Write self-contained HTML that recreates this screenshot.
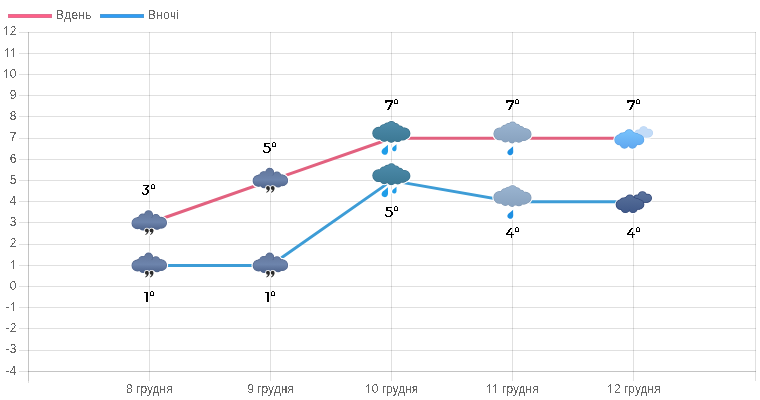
<!DOCTYPE html>
<html><head><meta charset="utf-8"><style>
html,body{margin:0;padding:0;background:#fff;width:760px;height:400px;overflow:hidden}
svg{display:block}
text{font-family:"Liberation Sans",sans-serif}
</style></head><body>
<svg width="760" height="400" viewBox="0 0 760 400">
<defs>
<g id="cA"><circle cx="-11.5" cy="0.5" r="5.4"/><circle cx="12" cy="0.1" r="5.3"/><circle cx="-0.45" cy="-8" r="3.8"/><circle cx="-6.3" cy="-4.5" r="4"/><circle cx="6.8" cy="-4.5" r="3.6"/><circle cx="-6" cy="3.5" r="3.7"/><circle cx="1" cy="3.2" r="3.5"/><circle cx="8" cy="3" r="3.5"/><rect x="-11.5" y="-5" width="23.5" height="9"/></g>
<g id="cB"><circle cx="-12.5" cy="-4.7" r="5.8"/><circle cx="13.2" cy="-4.4" r="5.3"/><circle cx="0.2" cy="-12.4" r="3.9"/><circle cx="-7.2" cy="-9" r="4.1"/><circle cx="8.3" cy="-8" r="3.8"/><circle cx="-3.6" cy="-11" r="3.8"/><circle cx="4.2" cy="-10.4" r="3.8"/><circle cx="-7" cy="-0.8" r="4"/><circle cx="0" cy="0" r="4.2"/><circle cx="6.5" cy="-0.5" r="4"/><circle cx="11.5" cy="-1.5" r="3.4"/><rect x="-12.5" y="-9.5" width="25.7" height="9.5"/></g>
<g id="cDf"><circle cx="-13.6" cy="1.9" r="4.85"/><circle cx="5.5" cy="1.7" r="4.65"/><circle cx="-4.25" cy="-3.6" r="4.35"/><circle cx="-11" cy="-1" r="3.75"/><circle cx="2.55" cy="-0.7" r="3.65"/><circle cx="-7.6" cy="-2" r="3.6"/><circle cx="-0.8" cy="-1.8" r="3.6"/><circle cx="-9" cy="5.9" r="4.15"/><circle cx="-1" cy="5.9" r="4.15"/><rect x="-13.6" y="-1.5" width="19.1" height="8.0"/></g>
<g id="cDb"><circle cx="10.15" cy="-7.3" r="3.85"/><circle cx="5" cy="-4.6" r="3.2"/><circle cx="15.4" cy="-5" r="3.55"/><circle cx="8" cy="-3.85" r="2.7"/><circle cx="13" cy="-3.85" r="2.7"/><rect x="5" y="-6.5" width="10.4" height="5.35"/></g>
<g id="dropsA" fill="#2b2b2b">
 <circle cx="-2.2" cy="7.7" r="1.9"/>
 <path d="M-0.4 7.9 C-0.3 10.1 -1.5 11.6 -3.7 12.4 L-3.9 11.8 C-2.7 11.1 -2.1 10.3 -2.2 9.3 Z"/>
 <circle cx="2.5" cy="7.7" r="1.9"/>
 <path d="M4.3 7.9 C4.4 10.1 3.2 11.6 1 12.4 L0.8 11.8 C2 11.1 2.6 10.3 2.5 9.3 Z"/>
</g>
<filter id="crisp2" x="-10%" y="-30%" width="120%" height="160%"><feComponentTransfer><feFuncA type="discrete" tableValues="0 1"/></feComponentTransfer></filter>
<linearGradient id="gA" gradientUnits="userSpaceOnUse" x1="0" y1="-12" x2="0" y2="7"><stop offset="0" stop-color="#62769b"/><stop offset="0.6" stop-color="#6d84ac"/><stop offset="1" stop-color="#50658d"/></linearGradient>
<linearGradient id="gB" gradientUnits="userSpaceOnUse" x1="0" y1="-16.5" x2="0" y2="4.5"><stop offset="0" stop-color="#4d8baa"/><stop offset="1" stop-color="#3c7894"/></linearGradient>
<linearGradient id="gC" gradientUnits="userSpaceOnUse" x1="0" y1="-16.5" x2="0" y2="4.5"><stop offset="0" stop-color="#9ab4d0"/><stop offset="1" stop-color="#88a2bf"/></linearGradient>
<linearGradient id="gD" gradientUnits="userSpaceOnUse" x1="0" y1="-8" x2="0" y2="10"><stop offset="0" stop-color="#78c3fc"/><stop offset="1" stop-color="#60a8f1"/></linearGradient>
<linearGradient id="gE" gradientUnits="userSpaceOnUse" x1="0" y1="-11" x2="0" y2="11"><stop offset="0" stop-color="#5a729c"/><stop offset="1" stop-color="#3f5888"/></linearGradient>
<path id="drop" d="M0 -5 C1 -2 3 0 3 2.2 C3 4.2 1.6 5.2 0 5.2 C-1.6 5.2 -3 4.2 -3 2.2 C-3 0 -1 -2 0 -5 Z"/>
</defs>
<line x1="19" y1="32.5" x2="756" y2="32.5" stroke="#000" stroke-opacity="0.12" stroke-width="1"/>
<line x1="19" y1="53.5" x2="756" y2="53.5" stroke="#000" stroke-opacity="0.12" stroke-width="1"/>
<line x1="19" y1="74.5" x2="756" y2="74.5" stroke="#000" stroke-opacity="0.12" stroke-width="1"/>
<line x1="19" y1="95.5" x2="756" y2="95.5" stroke="#000" stroke-opacity="0.12" stroke-width="1"/>
<line x1="19" y1="116.5" x2="756" y2="116.5" stroke="#000" stroke-opacity="0.12" stroke-width="1"/>
<line x1="19" y1="138.5" x2="756" y2="138.5" stroke="#000" stroke-opacity="0.12" stroke-width="1"/>
<line x1="19" y1="159.5" x2="756" y2="159.5" stroke="#000" stroke-opacity="0.12" stroke-width="1"/>
<line x1="19" y1="180.5" x2="756" y2="180.5" stroke="#000" stroke-opacity="0.12" stroke-width="1"/>
<line x1="19" y1="201.5" x2="756" y2="201.5" stroke="#000" stroke-opacity="0.12" stroke-width="1"/>
<line x1="19" y1="222.5" x2="756" y2="222.5" stroke="#000" stroke-opacity="0.12" stroke-width="1"/>
<line x1="19" y1="244.5" x2="756" y2="244.5" stroke="#000" stroke-opacity="0.12" stroke-width="1"/>
<line x1="19" y1="265.5" x2="756" y2="265.5" stroke="#000" stroke-opacity="0.12" stroke-width="1"/>
<line x1="19" y1="286.5" x2="756" y2="286.5" stroke="#000" stroke-opacity="0.12" stroke-width="1"/>
<line x1="19" y1="307.5" x2="756" y2="307.5" stroke="#000" stroke-opacity="0.12" stroke-width="1"/>
<line x1="19" y1="328.5" x2="756" y2="328.5" stroke="#000" stroke-opacity="0.12" stroke-width="1"/>
<line x1="19" y1="350.5" x2="756" y2="350.5" stroke="#000" stroke-opacity="0.12" stroke-width="1"/>
<line x1="19" y1="371.5" x2="756" y2="371.5" stroke="#000" stroke-opacity="0.12" stroke-width="1"/>
<line x1="28.5" y1="32" x2="28.5" y2="381" stroke="#000" stroke-opacity="0.12" stroke-width="1"/>
<line x1="149.5" y1="32" x2="149.5" y2="381" stroke="#000" stroke-opacity="0.12" stroke-width="1"/>
<line x1="270.5" y1="32" x2="270.5" y2="381" stroke="#000" stroke-opacity="0.12" stroke-width="1"/>
<line x1="391.5" y1="32" x2="391.5" y2="381" stroke="#000" stroke-opacity="0.12" stroke-width="1"/>
<line x1="512.5" y1="32" x2="512.5" y2="381" stroke="#000" stroke-opacity="0.12" stroke-width="1"/>
<line x1="633.5" y1="32" x2="633.5" y2="381" stroke="#000" stroke-opacity="0.12" stroke-width="1"/>
<line x1="755.5" y1="32" x2="755.5" y2="381" stroke="#000" stroke-opacity="0.12" stroke-width="1"/>
<line x1="28.5" y1="32" x2="28.5" y2="383" stroke="#000" stroke-opacity="0.12"/>
<line x1="28" y1="371.5" x2="756" y2="371.5" stroke="#000" stroke-opacity="0.12"/>
<text x="16.5" y="35" text-anchor="end" font-size="12" fill="#666" filter="url(#crisp2)">12</text>
<text x="16.5" y="57" text-anchor="end" font-size="12" fill="#666" filter="url(#crisp2)">11</text>
<text x="16.5" y="78" text-anchor="end" font-size="12" fill="#666" filter="url(#crisp2)">10</text>
<text x="16.5" y="99" text-anchor="end" font-size="12" fill="#666" filter="url(#crisp2)">9</text>
<text x="16.5" y="120" text-anchor="end" font-size="12" fill="#666" filter="url(#crisp2)">8</text>
<text x="16.5" y="141" text-anchor="end" font-size="12" fill="#666" filter="url(#crisp2)">7</text>
<text x="16.5" y="163" text-anchor="end" font-size="12" fill="#666" filter="url(#crisp2)">6</text>
<text x="16.5" y="184" text-anchor="end" font-size="12" fill="#666" filter="url(#crisp2)">5</text>
<text x="16.5" y="205" text-anchor="end" font-size="12" fill="#666" filter="url(#crisp2)">4</text>
<text x="16.5" y="226" text-anchor="end" font-size="12" fill="#666" filter="url(#crisp2)">3</text>
<text x="16.5" y="247" text-anchor="end" font-size="12" fill="#666" filter="url(#crisp2)">2</text>
<text x="16.5" y="269" text-anchor="end" font-size="12" fill="#666" filter="url(#crisp2)">1</text>
<text x="16.5" y="290" text-anchor="end" font-size="12" fill="#666" filter="url(#crisp2)">0</text>
<text x="16.5" y="311" text-anchor="end" font-size="12" fill="#666" filter="url(#crisp2)">-1</text>
<text x="16.5" y="332" text-anchor="end" font-size="12" fill="#666" filter="url(#crisp2)">-2</text>
<text x="16.5" y="353" text-anchor="end" font-size="12" fill="#666" filter="url(#crisp2)">-3</text>
<text x="16.5" y="375" text-anchor="end" font-size="12" fill="#666" filter="url(#crisp2)">-4</text>
<text x="149.35" y="393" text-anchor="middle" font-size="12" fill="#666" filter="url(#crisp2)">8 грудня</text>
<text x="270.50" y="393" text-anchor="middle" font-size="12" fill="#666" filter="url(#crisp2)">9 грудня</text>
<text x="391.65" y="393" text-anchor="middle" font-size="12" fill="#666" filter="url(#crisp2)">10 грудня</text>
<text x="512.50" y="393" text-anchor="middle" font-size="12" fill="#666" filter="url(#crisp2)">11 грудня</text>
<text x="633.95" y="393" text-anchor="middle" font-size="12" fill="#666" filter="url(#crisp2)">12 грудня</text>
<path d="M4 34h1v1h-1zM5 34h1v1h-1zM7 34h1v1h-1zM8 34h1v1h-1zM5 26h1v1h-1zM4 27h1v1h-1zM5 56h1v1h-1zM6 56h1v1h-1zM8 56h1v1h-1zM9 56h1v1h-1zM6 48h1v1h-1zM5 49h1v1h-1zM11 56h1v1h-1zM12 56h1v1h-1zM14 56h1v1h-1zM15 56h1v1h-1zM12 48h1v1h-1zM11 49h1v1h-1zM4 77h1v1h-1zM5 77h1v1h-1zM7 77h1v1h-1zM8 77h1v1h-1zM5 69h1v1h-1zM4 70h1v1h-1zM11 268h1v1h-1zM12 268h1v1h-1zM14 268h1v1h-1zM15 268h1v1h-1zM12 260h1v1h-1zM11 261h1v1h-1zM11 310h1v1h-1zM12 310h1v1h-1zM14 310h1v1h-1zM15 310h1v1h-1zM12 302h1v1h-1zM11 303h1v1h-1zM366 392h1v1h-1zM367 392h1v1h-1zM369 392h1v1h-1zM370 392h1v1h-1zM367 384h1v1h-1zM366 385h1v1h-1zM487 392h1v1h-1zM488 392h1v1h-1zM490 392h1v1h-1zM491 392h1v1h-1zM488 384h1v1h-1zM487 385h1v1h-1zM493 392h1v1h-1zM494 392h1v1h-1zM496 392h1v1h-1zM497 392h1v1h-1zM494 384h1v1h-1zM493 385h1v1h-1zM608 392h1v1h-1zM609 392h1v1h-1zM611 392h1v1h-1zM612 392h1v1h-1zM609 384h1v1h-1zM608 385h1v1h-1z" fill="#fff" shape-rendering="crispEdges"/><path d="M5 27h1v1h-1zM4 28h1v1h-1zM6 49h1v1h-1zM5 50h1v1h-1zM12 49h1v1h-1zM11 50h1v1h-1zM5 70h1v1h-1zM4 71h1v1h-1zM12 261h1v1h-1zM11 262h1v1h-1zM12 303h1v1h-1zM11 304h1v1h-1zM367 385h1v1h-1zM366 386h1v1h-1zM488 385h1v1h-1zM487 386h1v1h-1zM494 385h1v1h-1zM493 386h1v1h-1zM609 385h1v1h-1zM608 386h1v1h-1z" fill="#666" shape-rendering="crispEdges"/>
<rect x="8" y="14" width="44" height="4" fill="#e06e8f"/><rect x="9" y="15" width="42" height="2" fill="#ff5f88"/>
<text x="56" y="19" font-size="12" letter-spacing="0.3" fill="#666" filter="url(#crisp2)">Вдень</text>
<rect x="100" y="14" width="44" height="4" fill="#4b9ad4"/><rect x="101" y="15" width="42" height="2" fill="#2f9cf5"/>
<text x="148" y="19" font-size="12" letter-spacing="0.3" fill="#666" filter="url(#crisp2)">Вночі</text>
<polyline points="149.35,223.04 270.50,180.63 391.65,138.22 512.80,138.22 633.95,138.22" fill="none" stroke="#e2617f" stroke-width="3" stroke-linejoin="round" stroke-linecap="butt"/>
<polyline points="149.35,265.46 270.50,265.46 391.65,180.63 512.80,201.84 633.95,201.84" fill="none" stroke="#3d9cd6" stroke-width="3" stroke-linejoin="round" stroke-linecap="butt"/>
<g transform="translate(149.05,222.69)"><use href="#cA" fill="#fff" stroke="#fff" stroke-width="3.6" /><use href="#cA" fill="#52668e" stroke="#52668e" stroke-width="1.3"/><use href="#cA" fill="url(#gA)"/><use href="#dropsA" stroke="#fff" stroke-width="1.6"/><use href="#dropsA"/></g>
<g transform="translate(270.15,180.31)"><use href="#cA" fill="#fff" stroke="#fff" stroke-width="3.6" /><use href="#cA" fill="#52668e" stroke="#52668e" stroke-width="1.3"/><use href="#cA" fill="url(#gA)"/><use href="#dropsA" stroke="#fff" stroke-width="1.6"/><use href="#dropsA"/></g>
<g transform="translate(391.25,137.94)"><use href="#cB" fill="#fff" stroke="#fff" stroke-width="3.6" /><use href="#drop" fill="#fff" stroke="#fff" stroke-width="3.6" transform="translate(-5.5,11.6) rotate(25) scale(1.05)"/><use href="#drop" fill="#fff" stroke="#fff" stroke-width="3.6" transform="translate(3.75,9.6) rotate(25) scale(0.72)"/><use href="#cB" fill="#376f8a" stroke="#376f8a" stroke-width="1.3"/><use href="#cB" fill="url(#gB)"/><use href="#drop" transform="translate(-5.5,11.6) rotate(25) scale(1.05)" fill="#1f9de8"/><use href="#drop" transform="translate(3.75,9.6) rotate(25) scale(0.72)" fill="#1f9de8"/></g>
<g transform="translate(512.35,137.94)"><g transform="translate(0,0.6)"><use href="#cB" fill="#fff" stroke="#fff" stroke-width="3.6" /><use href="#cB" fill="#8099b5" stroke="#8099b5" stroke-width="1.3"/><use href="#cB" fill="url(#gC)"/></g><use href="#drop" fill="#fff" stroke="#fff" stroke-width="3.6" transform="translate(-1.2,12.55) rotate(25) scale(0.95)"/><use href="#drop" transform="translate(-1.2,12.55) rotate(25) scale(0.95)" fill="#1d8fe2"/></g>
<g transform="translate(633.45,137.94)"><use href="#cDb" fill="#fff" stroke="#fff" stroke-width="3.6" /><use href="#cDf" fill="#fff" stroke="#fff" stroke-width="3.6" /><use href="#cDb" fill="#b9d3f2" stroke="#b9d3f2" stroke-width="1.3"/><use href="#cDb" fill="#c3dcf8"/><use href="#cDf" fill="#5ca3e6" stroke="#5ca3e6" stroke-width="1.3"/><use href="#cDf" fill="url(#gD)"/></g>
<g transform="translate(149.05,265.06)"><use href="#cA" fill="#fff" stroke="#fff" stroke-width="3.6" /><use href="#cA" fill="#52668e" stroke="#52668e" stroke-width="1.3"/><use href="#cA" fill="url(#gA)"/><use href="#dropsA" stroke="#fff" stroke-width="1.6"/><use href="#dropsA"/></g>
<g transform="translate(270.15,265.06)"><use href="#cA" fill="#fff" stroke="#fff" stroke-width="3.6" /><use href="#cA" fill="#52668e" stroke="#52668e" stroke-width="1.3"/><use href="#cA" fill="url(#gA)"/><use href="#dropsA" stroke="#fff" stroke-width="1.6"/><use href="#dropsA"/></g>
<g transform="translate(391.25,180.31)"><use href="#cB" fill="#fff" stroke="#fff" stroke-width="3.6" /><use href="#drop" fill="#fff" stroke="#fff" stroke-width="3.6" transform="translate(-5.5,11.6) rotate(25) scale(1.05)"/><use href="#drop" fill="#fff" stroke="#fff" stroke-width="3.6" transform="translate(3.75,9.6) rotate(25) scale(0.72)"/><use href="#cB" fill="#376f8a" stroke="#376f8a" stroke-width="1.3"/><use href="#cB" fill="url(#gB)"/><use href="#drop" transform="translate(-5.5,11.6) rotate(25) scale(1.05)" fill="#1f9de8"/><use href="#drop" transform="translate(3.75,9.6) rotate(25) scale(0.72)" fill="#1f9de8"/></g>
<g transform="translate(512.35,201.50)"><g transform="translate(0,0.6)"><use href="#cB" fill="#fff" stroke="#fff" stroke-width="3.6" /><use href="#cB" fill="#8099b5" stroke="#8099b5" stroke-width="1.3"/><use href="#cB" fill="url(#gC)"/></g><use href="#drop" fill="#fff" stroke="#fff" stroke-width="3.6" transform="translate(-1.2,12.55) rotate(25) scale(0.95)"/><use href="#drop" transform="translate(-1.2,12.55) rotate(25) scale(0.95)" fill="#1d8fe2"/></g>
<g transform="translate(633.45,201.50)"><g transform="translate(-1.2,1.6)"><use href="#cDb" fill="#fff" stroke="#fff" stroke-width="3.6" /></g><g transform="translate(0.5,1.3) scale(0.95)"><use href="#cDf" fill="#fff" stroke="#fff" stroke-width="3.6" /></g><g transform="translate(-1.2,1.6)"><use href="#cDb" fill="#33497a" stroke="#33497a" stroke-width="1.6"/><use href="#cDb" fill="url(#gE)"/></g><g transform="translate(0.5,1.3) scale(0.95)"><use href="#cDf" fill="#33497a" stroke="#33497a" stroke-width="1.6"/><use href="#cDf" fill="url(#gE)"/></g></g>
<path d="M143 185h6v1h-6zM147 186h2v1h-2zM146 187h2v1h-2zM145 188h2v1h-2zM145 189h3v1h-3zM147 190h2v1h-2zM147 191h2v1h-2zM142 192h1v1h-1zM147 192h2v1h-2zM142 193h2v1h-2zM146 193h2v1h-2zM143 194h4v1h-4zM152 184h2v1h-2zM151 185h1v1h-1zM154 185h1v1h-1zM151 186h1v1h-1zM154 186h1v1h-1zM151 187h1v1h-1zM154 187h1v1h-1zM151 188h4v1h-4zM264 143h6v1h-6zM264 144h2v1h-2zM264 145h2v1h-2zM264 146h5v1h-5zM268 147h2v1h-2zM269 148h2v1h-2zM269 149h2v1h-2zM263 150h1v1h-1zM269 150h2v1h-2zM263 151h2v1h-2zM268 151h2v1h-2zM264 152h5v1h-5zM273 142h2v1h-2zM272 143h1v1h-1zM275 143h1v1h-1zM272 144h1v1h-1zM275 144h1v1h-1zM272 145h1v1h-1zM275 145h1v1h-1zM272 146h4v1h-4zM385 100h8v1h-8zM385 101h8v1h-8zM385 102h2v1h-2zM391 102h2v1h-2zM390 103h2v1h-2zM390 104h2v1h-2zM389 105h2v1h-2zM389 106h2v1h-2zM388 107h2v1h-2zM388 108h2v1h-2zM387 109h2v1h-2zM395 99h2v1h-2zM394 100h1v1h-1zM397 100h1v1h-1zM394 101h1v1h-1zM397 101h1v1h-1zM394 102h1v1h-1zM397 102h1v1h-1zM394 103h4v1h-4zM506 100h8v1h-8zM506 101h8v1h-8zM506 102h2v1h-2zM512 102h2v1h-2zM511 103h2v1h-2zM511 104h2v1h-2zM510 105h2v1h-2zM510 106h2v1h-2zM509 107h2v1h-2zM509 108h2v1h-2zM508 109h2v1h-2zM516 99h2v1h-2zM515 100h1v1h-1zM518 100h1v1h-1zM515 101h1v1h-1zM518 101h1v1h-1zM515 102h1v1h-1zM518 102h1v1h-1zM515 103h4v1h-4zM627 100h8v1h-8zM627 101h8v1h-8zM627 102h2v1h-2zM633 102h2v1h-2zM632 103h2v1h-2zM632 104h2v1h-2zM631 105h2v1h-2zM631 106h2v1h-2zM630 107h2v1h-2zM630 108h2v1h-2zM629 109h2v1h-2zM637 99h2v1h-2zM636 100h1v1h-1zM639 100h1v1h-1zM636 101h1v1h-1zM639 101h1v1h-1zM636 102h1v1h-1zM639 102h1v1h-1zM636 103h4v1h-4zM144 292h4v1h-4zM146 293h2v1h-2zM146 294h2v1h-2zM146 295h2v1h-2zM146 296h2v1h-2zM146 297h2v1h-2zM146 298h2v1h-2zM146 299h2v1h-2zM146 300h2v1h-2zM146 301h2v1h-2zM151 291h2v1h-2zM150 292h1v1h-1zM153 292h1v1h-1zM150 293h1v1h-1zM153 293h1v1h-1zM150 294h1v1h-1zM153 294h1v1h-1zM150 295h4v1h-4zM265 292h4v1h-4zM267 293h2v1h-2zM267 294h2v1h-2zM267 295h2v1h-2zM267 296h2v1h-2zM267 297h2v1h-2zM267 298h2v1h-2zM267 299h2v1h-2zM267 300h2v1h-2zM267 301h2v1h-2zM272 291h2v1h-2zM271 292h1v1h-1zM274 292h1v1h-1zM271 293h1v1h-1zM274 293h1v1h-1zM271 294h1v1h-1zM274 294h1v1h-1zM271 295h4v1h-4zM386 207h6v1h-6zM386 208h2v1h-2zM386 209h2v1h-2zM386 210h5v1h-5zM390 211h2v1h-2zM391 212h2v1h-2zM391 213h2v1h-2zM385 214h1v1h-1zM391 214h2v1h-2zM385 215h2v1h-2zM390 215h2v1h-2zM386 216h5v1h-5zM395 206h2v1h-2zM394 207h1v1h-1zM397 207h1v1h-1zM394 208h1v1h-1zM397 208h1v1h-1zM394 209h1v1h-1zM397 209h1v1h-1zM394 210h4v1h-4zM510 228h2v1h-2zM509 229h2v1h-2zM508 230h2v1h-2zM508 231h2v1h-2zM507 232h2v1h-2zM511 232h1v1h-1zM506 233h2v1h-2zM511 233h1v1h-1zM506 234h8v1h-8zM511 235h1v1h-1zM511 236h1v1h-1zM511 237h1v1h-1zM516 227h2v1h-2zM515 228h1v1h-1zM518 228h1v1h-1zM515 229h1v1h-1zM518 229h1v1h-1zM515 230h1v1h-1zM518 230h1v1h-1zM515 231h4v1h-4zM631 228h2v1h-2zM630 229h2v1h-2zM629 230h2v1h-2zM629 231h2v1h-2zM628 232h2v1h-2zM632 232h1v1h-1zM627 233h2v1h-2zM632 233h1v1h-1zM627 234h8v1h-8zM632 235h1v1h-1zM632 236h1v1h-1zM632 237h1v1h-1zM637 227h2v1h-2zM636 228h1v1h-1zM639 228h1v1h-1zM636 229h1v1h-1zM639 229h1v1h-1zM636 230h1v1h-1zM639 230h1v1h-1zM636 231h4v1h-4z" fill="#000" shape-rendering="crispEdges"/>
</svg></body></html>
